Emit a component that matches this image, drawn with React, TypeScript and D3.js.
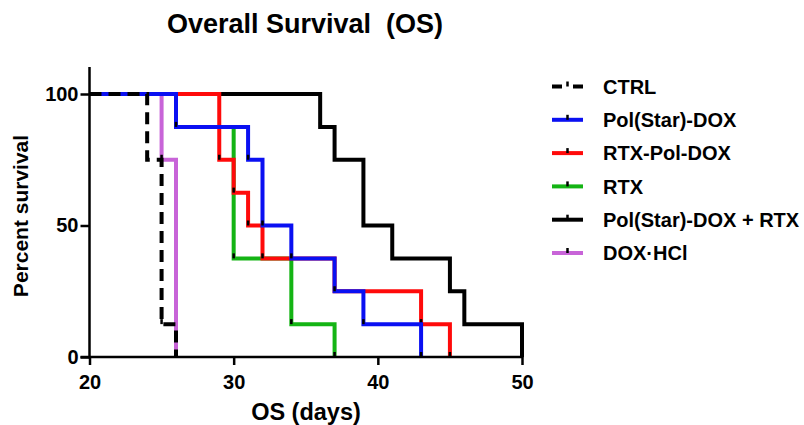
import React, { useRef, useEffect } from 'react';
import * as d3 from 'd3';

// Kaplan-Meier steps: event day and survival (%) after the event
const seriesNames = ['CTRL', 'Pol(Star)-DOX', 'RTX-Pol-DOX', 'RTX', 'Pol(Star)-DOX + RTX', 'DOX·HCl'];
const seriesColors = ['#000000', '#0a10f2', '#ff0a0a', '#14b414', '#000000', '#c864d8'];

const ctrlDays = [24, 25, 26];
const ctrlSurv = [75, 12.5, 0];
const polDays = [26, 31, 32, 34, 37, 39, 43];
const polSurv = [87.5, 75, 50, 37.5, 25, 12.5, 0];
const rtxPolDays = [29, 30, 31, 32, 37, 43, 45];
const rtxPolSurv = [75, 62.5, 50, 37.5, 25, 12.5, 0];
const rtxDays = [26, 30, 34, 37];
const rtxSurv = [87.5, 37.5, 12.5, 0];
const comboDays = [36, 37, 39, 41, 45, 46, 50];
const comboSurv = [87.5, 75, 50, 37.5, 25, 12.5, 0];
const doxDays = [25, 26];
const doxSurv = [75, 0];

const xTicks = [20, 30, 40, 50];
const yTicks = [0, 50, 100];
const startDay = 20;

const allDays = [ctrlDays, polDays, rtxPolDays, rtxDays, comboDays, doxDays];
const allSurv = [ctrlSurv, polSurv, rtxPolSurv, rtxSurv, comboSurv, doxSurv];

const FONT = '"Liberation Sans", Arial, sans-serif';

export default function App() {
  const svgRef = useRef<SVGSVGElement>(null);

  useEffect(() => {
    if (!svgRef.current) return;
    const svg = d3.select(svgRef.current);
    svg.selectAll('*').remove();

    const x = d3.scaleLinear().domain([20, 50]).range([89.5, 522]);
    const y = d3.scaleLinear().domain([0, 100]).range([357, 94]);

    const line = d3.line<[number, number]>()
      .x(d => x(d[0]))
      .y(d => y(d[1]))
      .curve(d3.curveStepAfter);

    // draw in reverse legend order so CTRL sits on top
    const order = d3.range(seriesNames.length).reverse();
    order.forEach(i => {
      const pts: [number, number][] = [[startDay, 100]];
      allDays[i].forEach((d, k) => pts.push([d, allSurv[i][k]]));
      svg.append('path')
        .datum(pts)
        .attr('fill', 'none')
        .attr('stroke', seriesColors[i])
        .attr('stroke-width', 4)
        .attr('stroke-linejoin', 'miter')
        .attr('stroke-dasharray', i === 0 ? '12,7' : null)
        .attr('d', line);
      // event ticks
      svg.append('g')
        .selectAll('line')
        .data(allDays[i].map((d, k) => [d, allSurv[i][k]]))
        .join('line')
        .attr('x1', d => x(d[0]))
        .attr('x2', d => x(d[0]))
        .attr('y1', d => y(d[1]))
        .attr('y2', d => y(d[1]) - 5)
        .attr('stroke', '#000')
        .attr('stroke-width', 2.5);
    });

    // axes
    const xAxis = d3.axisBottom(x).tickValues(xTicks).tickSize(8).tickSizeOuter(0).tickPadding(10);
    const gx = svg.append('g').attr('transform', `translate(0,${y(0)})`).call(xAxis);
    gx.select('.domain').remove();
    gx.selectAll('line').attr('stroke', '#000').attr('stroke-width', 2.5);
    gx.selectAll('text')
      .attr('font-family', FONT).attr('font-weight', 'bold').attr('font-size', 20).attr('fill', '#000');

    const yAxis = d3.axisLeft(y).tickValues(yTicks).tickSize(9).tickSizeOuter(0).tickPadding(2);
    const gy = svg.append('g').attr('transform', `translate(${x(20)},0)`).call(yAxis);
    gy.select('.domain').remove();
    gy.selectAll('line').attr('stroke', '#000').attr('stroke-width', 2.5);
    gy.selectAll('text')
      .attr('font-family', FONT).attr('font-weight', 'bold').attr('font-size', 20).attr('fill', '#000');

    svg.append('line')
      .attr('x1', x(20)).attr('x2', x(20)).attr('y1', 67).attr('y2', y(0) + 1.25)
      .attr('stroke', '#000').attr('stroke-width', 2.5);
    svg.append('line')
      .attr('x1', x(20) - 9).attr('x2', x(50) + 1.25).attr('y1', y(0)).attr('y2', y(0))
      .attr('stroke', '#000').attr('stroke-width', 2.5);

    // titles
    svg.append('text')
      .attr('x', 305).attr('y', 33)
      .attr('text-anchor', 'middle')
      .attr('font-family', FONT).attr('font-weight', 'bold').attr('font-size', 27)
      .style('white-space', 'pre')
      .text('Overall Survival  (OS)');

    svg.append('text')
      .attr('x', 306).attr('y', 420)
      .attr('text-anchor', 'middle')
      .attr('font-family', FONT).attr('font-weight', 'bold').attr('font-size', 23.5)
      .text('OS (days)');

    svg.append('text')
      .attr('transform', 'translate(28,216) rotate(-90)')
      .attr('text-anchor', 'middle')
      .attr('font-family', FONT).attr('font-weight', 'bold').attr('font-size', 21)
      .text('Percent survival');

    // legend
    const legend = svg.append('g');
    seriesNames.forEach((name, i) => {
      const ly = 86.5 + i * 33.3;
      const row = legend.append('g').attr('transform', `translate(0,${ly})`);
      row.append('line')
        .attr('x1', 552).attr('x2', 583).attr('y1', 0).attr('y2', 0)
        .attr('stroke', seriesColors[i]).attr('stroke-width', 4)
        .attr('stroke-dasharray', i === 0 ? '10,11' : null);
      row.append('line')
        .attr('x1', 567.5).attr('x2', 567.5).attr('y1', 0).attr('y2', -5)
        .attr('stroke', '#000').attr('stroke-width', 2.5);
      row.append('text')
        .attr('x', 603).attr('y', 0).attr('dy', '0.36em')
        .attr('font-family', FONT).attr('font-weight', 'bold').attr('font-size', 20)
        .text(name);
    });
  }, []);

  return (
    <svg
      ref={svgRef}
      width={804}
      height={425}
      style={{ position: 'absolute', left: 0, top: 0, background: '#fff' }}
    />
  );
}
